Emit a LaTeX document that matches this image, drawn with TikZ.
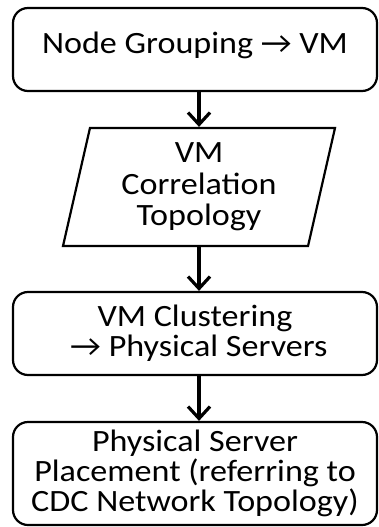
\documentclass[tikz,border=0pt]{standalone}
\usepackage{fontspec}
\setmainfont{Carlito}[FakeStretch=1.1]
\usetikzlibrary{arrows.meta,shapes.geometric}

\tikzset{
  txt/.style={font=\fontsize{31}{30}\selectfont, align=center},
  stepbox/.style={txt, draw, line width=2.2pt, rounded corners=15pt,
    minimum width=364pt, inner sep=0pt},
  databox/.style={txt, draw, line width=2.2pt, trapezium,
    trapezium left angle=73, trapezium right angle=107,
    trapezium stretches body, minimum width=272pt, minimum height=118pt,
    inner sep=0pt, font=\fontsize{31}{31.5}\selectfont},
  flow/.style={line width=3.2pt, -{Straight Barb[length=12pt,width=22pt]}}
}

\begin{document}
\begin{tikzpicture}[x=1pt,y=-1pt]
\useasboundingbox (0,0) rectangle (378,527);

% process steps and the intermediate data (parallelogram)
\node[stepbox, minimum height=83pt, text depth=14pt] (group) at (195,49.5)
  {Node Grouping → VM};
\node[databox] (corr) at (199,187)
  {VM\\Correlation\\Topology};
\node[stepbox, minimum height=83pt] (clust) at (195,333.5)
  {VM Clustering\\\ → Physical Servers};
\node[stepbox, minimum height=103pt] (place) at (195,473.5)
  {Physical Server\\Placement (referring to\\CDC Network Topology)};

% flow arrows
\draw[flow] (group.south -| corr.north) -- (corr.north);
\draw[flow] (corr.south) -- (corr.south |- clust.north);
\draw[flow] (clust.south -| corr.south) -- (place.north -| corr.south);
\end{tikzpicture}
\end{document}
